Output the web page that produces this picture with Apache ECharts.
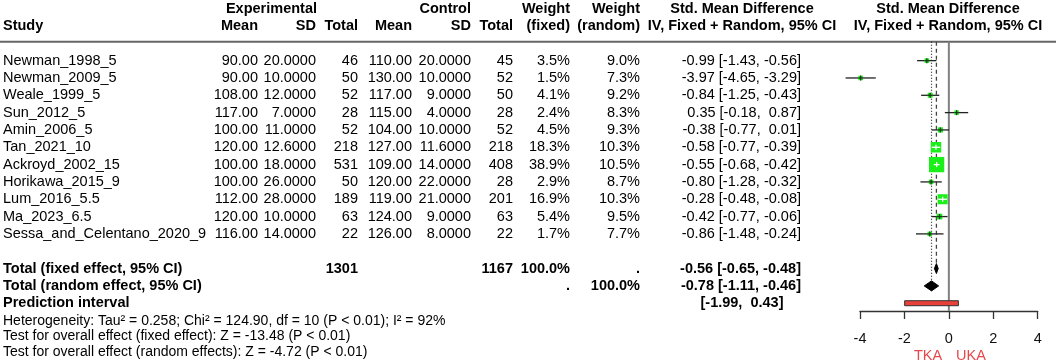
<!DOCTYPE html>
<html>
<head>
<meta charset="utf-8">
<script src="https://cdn.jsdelivr.net/npm/echarts@6/dist/echarts.min.js"></script>
<style>
  html, body { margin: 0; background: #fff; }
  #chart { width: 1056px; height: 364px; }
</style>
</head>
<body>
<div id="chart"></div>
<script>
// study data
const studies = ['Newman_1998_5', 'Newman_2009_5', 'Weale_1999_5', 'Sun_2012_5', 'Amin_2006_5', 'Tan_2021_10',
  'Ackroyd_2002_15', 'Horikawa_2015_9', 'Lum_2016_5.5', 'Ma_2023_6.5', 'Sessa_and_Celentano_2020_9']
const expMean = [90, 90, 108, 117, 100, 120, 100, 100, 112, 120, 116]
const expSD = [20, 10, 12, 7, 11, 12.6, 18, 26, 28, 10, 14]
const expN = [46, 50, 52, 28, 52, 218, 531, 50, 189, 63, 22]
const ctlMean = [110, 130, 117, 115, 104, 127, 109, 120, 119, 124, 126]
const ctlSD = [20, 10, 9, 4, 10, 11.6, 14, 22, 21, 9, 8]
const ctlN = [45, 52, 50, 28, 52, 218, 408, 28, 201, 63, 22]
const wFixed = [3.5, 1.5, 4.1, 2.4, 4.5, 18.3, 38.9, 2.9, 16.9, 5.4, 1.7]
const wRandom = [9.0, 7.3, 9.2, 8.3, 9.3, 10.3, 10.5, 8.7, 10.3, 9.5, 7.7]
const smd = [-0.99, -3.97, -0.84, 0.35, -0.38, -0.58, -0.55, -0.80, -0.28, -0.42, -0.86]
const ciLow = [-1.43, -4.65, -1.25, -0.18, -0.77, -0.77, -0.68, -1.28, -0.48, -0.77, -1.48]
const ciHigh = [-0.56, -3.29, -0.43, 0.87, 0.01, -0.39, -0.42, -0.32, -0.08, -0.06, -0.24]

// pooled results
const expTotal = 1301
const ctlTotal = 1167
const fixedEffect = [-0.56, -0.65, -0.48]
const randomEffect = [-0.78, -1.11, -0.46]
const predInterval = [-1.99, 0.43]
const tau2 = 0.258, chi2 = 124.90, df = 10, i2 = 92
const zFixed = -13.48, zRandom = -4.72
const axisMin = -4, axisMax = 4, axisStep = 2
const sideLabels = ['TKA', 'UKA']

// layout
const FONT = "'Liberation Sans', Arial, sans-serif"
const col = { study: 3, eMean: 258, eSD: 316, eN: 358, cMean: 412, cSD: 471, cN: 513, wF: 570, wR: 640, smdRight: 801, smdMid: 742, plotMid: 948 }
const rowFixed = 12, rowRandom = 13, rowPred = 14
const lineRow = -1.095

const fmt = (v) => v.toFixed(2).padStart(5, ' ')
const ciText = (e, l, h) => fmt(e).trim() + ' [' + fmt(l).trim() + ', ' + fmt(h) + ']'

const cells = []
const cell = (x, row, text, align, bold, size, color) =>
  cells.push({ x, row, text, align: align || 'right', bold: !!bold, size: size || 14.5, color: color || '#000' })

// header
cell(col.eSD + 1, -3, 'Experimental', 'right', true)
cell(col.cSD, -3, 'Control', 'right', true)
cell(col.wF, -3, 'Weight', 'right', true)
cell(col.wR, -3, 'Weight', 'right', true)
cell(col.smdMid, -3, 'Std. Mean Difference', 'center', true)
cell(col.plotMid, -3, 'Std. Mean Difference', 'center', true)
cell(col.study, -2, 'Study', 'left', true)
cell(col.eMean, -2, 'Mean', 'right', true)
cell(col.eSD, -2, 'SD', 'right', true)
cell(col.eN, -2, 'Total', 'right', true)
cell(col.cMean, -2, 'Mean', 'right', true)
cell(col.cSD, -2, 'SD', 'right', true)
cell(col.cN, -2, 'Total', 'right', true)
cell(col.wF, -2, '(fixed)', 'right', true)
cell(col.wR, -2, '(random)', 'right', true)
cell(col.smdMid, -2, 'IV, Fixed + Random, 95% CI', 'center', true)
cell(col.plotMid, -2, 'IV, Fixed + Random, 95% CI', 'center', true)

studies.forEach((s, i) => {
  cell(col.study, i, s, 'left')
  cell(col.eMean, i, expMean[i].toFixed(2))
  cell(col.eSD, i, expSD[i].toFixed(4))
  cell(col.eN, i, String(expN[i]))
  cell(col.cMean, i, ctlMean[i].toFixed(2))
  cell(col.cSD, i, ctlSD[i].toFixed(4))
  cell(col.cN, i, String(ctlN[i]))
  cell(col.wF, i, wFixed[i].toFixed(1) + '%')
  cell(col.wR, i, wRandom[i].toFixed(1) + '%')
  cell(col.smdRight, i, ciText(smd[i], ciLow[i], ciHigh[i]))
})

cell(col.study, rowFixed, 'Total (fixed effect, 95% CI)', 'left', true)
cell(col.eN, rowFixed, String(expTotal), 'right', true)
cell(col.cN, rowFixed, String(ctlTotal), 'right', true)
cell(col.wF, rowFixed, '100.0%', 'right', true)
cell(col.wR, rowFixed, '.', 'right', true)
cell(col.smdRight, rowFixed, ciText(...fixedEffect), 'right', true)
cell(col.study, rowRandom, 'Total (random effect, 95% CI)', 'left', true)
cell(col.wF, rowRandom, '.', 'right', true)
cell(col.wR, rowRandom, '100.0%', 'right', true)
cell(col.smdRight, rowRandom, ciText(...randomEffect), 'right', true)
cell(col.study, rowPred, 'Prediction interval', 'left', true)
cell(col.smdMid, rowPred, '[' + fmt(predInterval[0]).trim() + ', ' + fmt(predInterval[1]) + ']', 'center', true)

cell(col.study, 15, 'Heterogeneity: Tau\u00b2 = ' + tau2.toFixed(3) + '; Chi\u00b2 = ' + chi2.toFixed(2) + ', df = ' + df +
  ' (P < 0.01); I\u00b2 = ' + i2 + '%', 'left', false, 14)
cell(col.study, 15.92, 'Test for overall effect (fixed effect): Z = ' + zFixed.toFixed(2) + ' (P < 0.01)', 'left', false, 14)
cell(col.study, 16.83, 'Test for overall effect (random effects): Z = ' + zRandom.toFixed(2) + ' (P < 0.01)', 'left', false, 14)
cell(928, 17.05, sideLabels[0], 'center', false, 14.5, '#e5484d')
cell(971, 17.05, sideLabels[1], 'center', false, 14.5, '#e5484d')

const chart = echarts.init(document.getElementById('chart'))

const option = {
  animation: false,
  grid: [
    { left: 0, right: 0, top: 0, bottom: 0 },
    { left: 860, right: 18.3, top: 0, bottom: 53 }
  ],
  xAxis: [
    { gridIndex: 0, type: 'value', min: 0, max: 1056, show: false },
    {
      gridIndex: 1, type: 'value', min: axisMin, max: axisMax, interval: axisStep,
      axisLine: { show: true, onZero: false, lineStyle: { color: '#333', width: 1.3 } },
      axisTick: { show: true, length: 8, lineStyle: { color: '#333', width: 1.3 } },
      axisLabel: { fontFamily: FONT, fontSize: 14.5, color: '#111', margin: 20 },
      splitLine: { show: false }
    }
  ],
  yAxis: [
    { gridIndex: 0, type: 'value', min: -3.5, max: 17.5, inverse: true, show: false },
    { gridIndex: 1, type: 'value', min: -3.5, max: 14.45, inverse: true, show: false }
  ],
  series: [
    {
      // table text
      type: 'custom', xAxisIndex: 0, yAxisIndex: 0, silent: true,
      data: cells.map((c) => [c.x, c.row]),
      renderItem: (params, api) => {
        const c = cells[params.dataIndex]
        const p = api.coord([c.x, c.row])
        return {
          type: 'text', x: p[0], y: p[1],
          style: {
            text: c.text, fill: c.color, align: c.align, verticalAlign: 'middle',
            font: (c.bold ? 'bold ' : '') + c.size + 'px ' + FONT
          }
        }
      }
    },
    {
      // header rule
      type: 'custom', xAxisIndex: 0, yAxisIndex: 0, silent: true,
      data: [[0, lineRow]],
      renderItem: (params, api) => {
        const a = api.coord([0, lineRow])
        const b = api.coord([1056, lineRow])
        return { type: 'line', shape: { x1: a[0], y1: a[1], x2: b[0], y2: b[1] }, style: { stroke: '#666', lineWidth: 2 } }
      }
    },
    {
      // reference lines: zero, fixed (dashed), random (dotted)
      type: 'custom', xAxisIndex: 1, yAxisIndex: 1, silent: true,
      data: [[0, 14.45], [fixedEffect[0], rowFixed], [randomEffect[0], rowRandom]],
      renderItem: (params, api) => {
        const a = api.coord([api.value(0), lineRow])
        const b = api.coord([api.value(0), api.value(1)])
        const styles = [
          { stroke: '#808080', lineWidth: 2 },
          { stroke: '#444', lineWidth: 1.3, lineDash: [4, 3] },
          { stroke: '#222', lineWidth: 1.2, lineDash: [1, 2] }
        ]
        return { type: 'line', shape: { x1: a[0], y1: a[1], x2: b[0], y2: b[1] }, style: styles[params.dataIndex] }
      }
    },
    {
      // studies
      type: 'custom', xAxisIndex: 1, yAxisIndex: 1, silent: true,
      data: studies.map((s, i) => [smd[i], i, ciLow[i], ciHigh[i]]),
      renderItem: (params, api) => {
        const i = params.dataIndex
        const p = api.coord([smd[i], i])
        const lo = api.coord([ciLow[i], i])
        const hi = api.coord([ciHigh[i], i])
        const s = Math.max(4.5, 2.45 * Math.sqrt(wFixed[i]))
        const inside = hi[0] - lo[0] < s
        const ink = inside ? '#fff' : '#1a3a1a'
        return {
          type: 'group',
          children: [
            { type: 'line', shape: { x1: lo[0], y1: lo[1], x2: hi[0], y2: hi[1] }, style: { stroke: '#222', lineWidth: 1.3 } },
            { type: 'rect', shape: { x: p[0] - s / 2, y: p[1] - s / 2, width: s, height: s }, style: { fill: '#1aef1a' } },
            { type: 'line', shape: { x1: inside ? lo[0] : p[0] - s / 2, y1: p[1], x2: inside ? hi[0] : p[0] + s / 2, y2: p[1] }, style: { stroke: ink, lineWidth: 1.3 } },
            { type: 'line', shape: { x1: p[0], y1: p[1] - 2.5, x2: p[0], y2: p[1] + 2.5 }, style: { stroke: ink, lineWidth: 1.3 } }
          ]
        }
      }
    },
    {
      // pooled diamonds
      type: 'custom', xAxisIndex: 1, yAxisIndex: 1, silent: true,
      data: [[...fixedEffect, rowFixed], [...randomEffect, rowRandom]],
      renderItem: (params, api) => {
        const row = api.value(3)
        const e = api.coord([api.value(0), row])
        const l = api.coord([api.value(1), row])
        const h = api.coord([api.value(2), row])
        const hh = 5
        return {
          type: 'polygon',
          shape: { points: [[l[0], e[1]], [e[0], e[1] - hh], [h[0], e[1]], [e[0], e[1] + hh]] },
          style: { fill: '#000', stroke: '#000', lineWidth: 1 }
        }
      }
    },
    {
      // prediction interval
      type: 'custom', xAxisIndex: 1, yAxisIndex: 1, silent: true,
      data: [[predInterval[0], predInterval[1], rowPred]],
      renderItem: (params, api) => {
        const a = api.coord([api.value(0), api.value(2)])
        const b = api.coord([api.value(1), api.value(2)])
        return {
          type: 'rect',
          shape: { x: a[0], y: a[1] - 2.5, width: b[0] - a[0], height: 5 },
          style: { fill: '#e8413a', stroke: '#333', lineWidth: 1 }
        }
      }
    }
  ]
}

chart.setOption(option)
</script>
</body>
</html>
